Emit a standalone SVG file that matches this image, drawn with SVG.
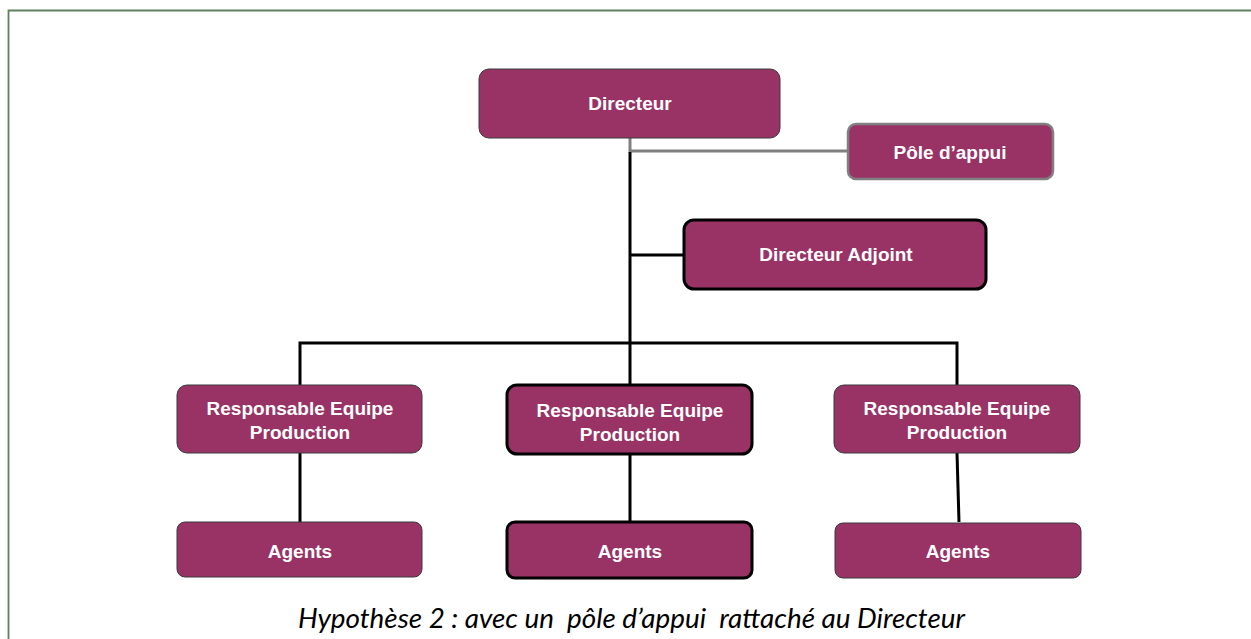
<svg xmlns="http://www.w3.org/2000/svg" width="1251" height="639" viewBox="0 0 1251 639">
<style>
.box{fill:#993366;stroke:#3a3a3a;stroke-width:1}
.thick{stroke:#000;stroke-width:3}
.grey{stroke:#808080;stroke-width:2.5}
.lbl{font-family:"Liberation Sans",Arial,sans-serif;font-weight:bold;font-size:19px;fill:#fff;text-anchor:middle}
.ln{stroke:#000;stroke-width:3;fill:none}
.lg{stroke:#808080;stroke-width:3;fill:none}
.cap{font-family:Lato,"Open Sans",sans-serif;font-style:italic;font-size:27px;fill:#000;text-anchor:middle;white-space:pre}
</style>
<rect width="1251" height="639" fill="#fff"/>
<path d="M8.5 639 V10.5 H1251" fill="none" stroke="#5f8060" stroke-width="1.8"/>
<g id="connectors">
<path class="lg" d="M630 138 V151 H848"/>
<path class="ln" d="M630 152 V384"/>
<path class="ln" d="M630 255 H684"/>
<path class="ln" d="M300 385 V343 H957 V385"/>
<path class="ln" d="M300 453 V522"/>
<path class="ln" d="M630 454 V521"/>
<path class="ln" d="M957 453 L959 522"/>
</g>
<g id="directeur"><rect class="box" x="479" y="69" width="301" height="69" rx="10"/><text class="lbl" x="630" y="110">Directeur</text></g>
<g id="pole"><rect class="box grey" x="848" y="124" width="205" height="55" rx="8"/><text class="lbl" x="950" y="159">Pôle d’appui</text></g>
<g id="adjoint"><rect class="box thick" x="684" y="220" width="302" height="69" rx="10"/><text class="lbl" x="836" y="261">Directeur Adjoint</text></g>
<g id="rep1"><rect class="box" x="177" y="385" width="245" height="68" rx="10"/><text class="lbl" x="300" y="415">Responsable Equipe</text><text class="lbl" x="300" y="439">Production</text></g>
<g id="rep2"><rect class="box thick" x="507" y="385" width="245" height="69" rx="10"/><text class="lbl" x="630" y="417">Responsable Equipe</text><text class="lbl" x="630" y="441">Production</text></g>
<g id="rep3"><rect class="box" x="834" y="385" width="246" height="68" rx="10"/><text class="lbl" x="957" y="415">Responsable Equipe</text><text class="lbl" x="957" y="439">Production</text></g>
<g id="agents1"><rect class="box" x="177" y="522" width="245" height="55" rx="8"/><text class="lbl" x="300" y="558">Agents</text></g>
<g id="agents2"><rect class="box thick" x="507" y="522" width="245" height="56" rx="8"/><text class="lbl" x="630" y="558">Agents</text></g>
<g id="agents3"><rect class="box" x="835" y="523" width="246" height="55" rx="8"/><text class="lbl" x="958" y="558">Agents</text></g>
<text class="cap" x="631.5" y="628" xml:space="preserve" textLength="667" lengthAdjust="spacingAndGlyphs">Hypothèse 2 : avec un  pôle d’appui  rattaché au Directeur</text>
</svg>
